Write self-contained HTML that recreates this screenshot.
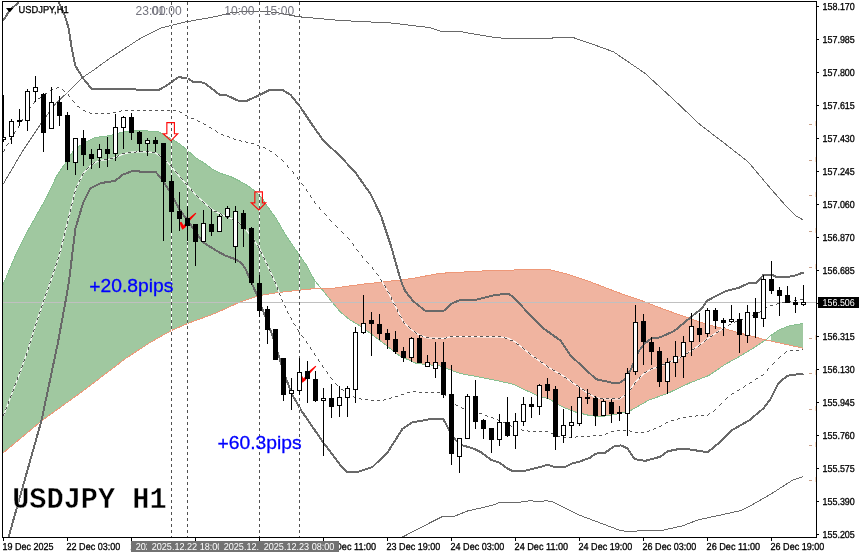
<!DOCTYPE html><html><head><meta charset="utf-8"><title>USDJPY H1</title><style>html,body{margin:0;padding:0;background:#fff}svg{display:block}</style></head><body><svg width="861" height="557" viewBox="0 0 861 557">
<rect width="861" height="557" fill="#fff"/>
<polygon fill="#A0C8A0" points="3.0,284.7 9.3,269.9 16.8,252.2 25.2,235.4 47.2,196.2 56.9,175.6 65.0,163.7 72.8,151.9 83.0,143.2 94.5,137.9 100.0,136.8 110.0,135.7 125.5,131.3 140.9,130.7 157.5,131.4 171.5,138.7 180.0,144.2 187.7,150.6 196.6,158.3 205.6,164.0 213.2,169.8 222.2,173.9 231.1,176.8 240.0,181.3 247.7,185.7 255.4,191.5 263.0,198.9 265.1,203.4 275.3,217.1 285.6,235.0 298.3,253.5 307.3,266.4 314.4,280.3 315.0,281.0 315.0,288.8 311.5,288.9 278.3,292.5 259.2,295.7 240.0,302.0 215.0,313.4 188.6,323.1 171.0,330.7 150.9,342.0 125.7,358.4 83.0,391.0 42.7,420.0 3.0,453.0"/>
<polygon fill="#F0B4A0" points="321.5,288.7 323.1,288.7 330.0,288.7 362.5,284.2 380.0,282.4 391.2,281.0 401.0,279.9 412.2,278.5 423.4,276.4 440.0,273.3 470.0,271.7 487.8,270.7 518.0,269.9 550.7,269.9 565.8,273.7 585.9,280.2 606.0,287.9 626.1,295.5 640.9,300.4 663.9,309.3 689.4,318.3 710.0,325.3 725.6,329.0 751.1,336.1 765.8,339.9 765.8,339.9 751.1,349.5 738.3,357.1 725.6,364.1 709.0,375.4 689.4,383.1 667.7,393.3 648.5,400.3 629.4,411.2 622.0,413.1 611.8,415.0 599.6,416.9 587.5,415.0 574.7,411.8 561.9,406.7 549.2,399.0 537.3,395.6 513.0,384.2 492.9,379.7 460.0,373.4 439.4,365.9 416.4,363.4 400.0,356.1 379.6,340.3 361.7,326.9 350.0,320.0 340.0,311.6 332.0,302.1 321.5,288.7"/>
<polygon fill="#A0C8A0" points="771.0,335.3 779.2,329.7 789.4,325.8 803.0,323.5 803.0,348.2 771.0,341.1"/>
<polyline fill="none" stroke="#88C090" stroke-width="1" shape-rendering="crispEdges" points="3.0,284.7 9.3,269.9 16.8,252.2 25.2,235.4 47.2,196.2 56.9,175.6 65.0,163.7 72.8,151.9 83.0,143.2 94.5,137.9 100.0,136.8 110.0,135.7 125.5,131.3 140.9,130.7 157.5,131.4 171.5,138.7 180.0,144.2 187.7,150.6 196.6,158.3 205.6,164.0 213.2,169.8 222.2,173.9 231.1,176.8 240.0,181.3 247.7,185.7 255.4,191.5 263.0,198.9 265.1,203.4 275.3,217.1 285.6,235.0 298.3,253.5 307.3,266.4 314.4,280.3 321.5,288.7 332.0,302.1 340.0,311.6 350.0,320.0 361.7,326.9 379.6,340.3 400.0,356.1 416.4,363.4 439.4,365.9 460.0,373.4 492.9,379.7 513.0,384.2 537.3,395.6 549.2,399.0 561.9,406.7 574.7,411.8 587.5,415.0 599.6,416.9 611.8,415.0 622.0,413.1 629.4,411.2 648.5,400.3 667.7,393.3 689.4,383.1 709.0,375.4 725.6,364.1 738.3,357.1 751.1,349.5 765.8,339.9 770.9,335.4 779.2,329.7 789.4,325.8 803.0,323.5"/>
<polyline fill="none" stroke="#EE9878" stroke-width="1" shape-rendering="crispEdges" points="3.0,453.0 42.7,420.0 83.0,391.0 125.7,358.4 150.9,342.0 171.0,330.7 188.6,323.1 215.0,313.4 240.0,302.0 259.2,295.7 278.3,292.5 311.5,288.9 323.1,288.7 330.0,288.7 362.5,284.2 380.0,282.4 391.2,281.0 401.0,279.9 412.2,278.5 423.4,276.4 440.0,273.3 470.0,271.7 487.8,270.7 518.0,269.9 550.7,269.9 565.8,273.7 585.9,280.2 606.0,287.9 626.1,295.5 640.9,300.4 663.9,309.3 689.4,318.3 710.0,325.3 725.6,329.0 751.1,336.1 765.8,339.9 803.0,348.2"/>
<rect x="3" y="302" width="813" height="1" fill="#C0C0C0" shape-rendering="crispEdges"/>
<polyline fill="none" stroke="#696969" stroke-width="1" shape-rendering="crispEdges" points="3.3,184.0 22.4,151.4 41.1,123.3 56.0,103.2 67.1,92.8 83.0,77.1 93.3,70.4 108.1,59.5 140.8,38.1 160.9,28.1 186.1,21.8 215.0,16.7 230.1,13.0 247.7,11.0 275.3,12.2 298.0,16.7 340.7,20.5 391.0,23.0 430.0,27.6 442.6,31.8 461.4,31.8 495.4,37.6 513.0,38.9 550.7,38.9 553.2,37.6 573.3,37.6 590.9,43.6 613.6,51.9 645.0,73.3 675.2,101.0 700.3,124.9 720.4,140.1 748.1,161.8 768.2,185.7 785.8,205.8 795.9,215.8 803.0,219.9"/>
<polyline fill="none" stroke="#696969" stroke-width="1" shape-rendering="crispEdges" points="401.0,537.8 430.0,522.8 442.5,516.5 455.0,516.0 467.5,511.0 492.4,505.3 498.7,502.8 514.9,502.8 529.9,500.8 539.9,501.5 546.1,500.8 552.3,501.5 562.3,506.5 579.8,515.3 599.8,522.8 619.8,530.3 627.3,531.5 645.0,530.6 660.1,530.8 682.6,525.8 697.7,520.0 740.3,510.7 752.9,504.4 770.4,494.4 793.0,479.9 803.0,476.6"/>
<polyline fill="none" stroke="#696969" stroke-width="2" stroke-linejoin="round" shape-rendering="crispEdges" points="3.1,20.6 10.0,9.9 19.0,2.1"/>
<polyline fill="none" stroke="#696969" stroke-width="2" stroke-linejoin="round" shape-rendering="crispEdges" points="58.6,2.1 64.4,14.4 68.5,27.7 71.7,48.2 75.4,65.8 83.0,78.3 91.8,88.9 115.7,88.9 158.4,90.2 166.0,85.9 178.5,77.1 187.3,78.3 193.6,82.1 203.7,82.6 215.0,90.9 220.0,95.2 226.3,95.2 238.9,101.0 246.4,101.0 260.3,94.7 269.1,90.2 282.9,90.2 290.4,94.7 300.5,107.3 313.1,126.1 323.1,140.2 340.7,156.7 355.8,173.1 370.9,194.5 381.0,215.8 391.0,246.0 398.3,271.7 401.5,282.2 404.8,290.4 412.9,300.9 425.1,310.7 443.8,310.7 452.0,303.4 460.1,300.1 475.3,299.9 492.9,295.5 507.9,293.5 513.0,296.7 530.6,315.6 543.2,328.2 560.8,340.8 570.8,355.8 585.9,369.7 596.0,379.2 611.8,382.6 619.8,382.7 625.2,378.9 630.7,369.7 635.8,358.2 638.5,351.4 645.0,343.3 651.1,338.7 660.0,337.4 674.1,331.1 689.4,318.3 702.2,308.1 707.0,300.7 725.6,291.2 738.3,288.0 748.6,283.2 756.2,283.2 763.2,275.2 772.8,275.2 776.7,277.1 786.9,277.1 794.5,275.8 800.9,273.3 803.5,273.3"/>
<polyline fill="none" stroke="#696969" stroke-width="2" stroke-linejoin="round" shape-rendering="crispEdges" points="8.4,537.8 41.5,420.4 57.8,343.3 66.6,295.5 69.1,280.4 75.4,228.4 83.0,203.3 90.5,188.2 100.6,183.1 114.7,181.0 123.1,174.5 132.4,171.1 139.0,171.1 140.5,172.1 155.8,172.1 161.4,178.7 168.8,189.9 179.2,208.8 188.2,221.6 193.9,229.3 202.2,241.7 216.2,250.6 225.0,255.4 235.2,259.2 241.6,263.1 246.1,270.1 249.3,277.8 252.1,284.2 256.3,293.1 265.6,317.4 271.9,334.0 277.9,353.2 285.6,377.4 291.9,394.0 300.9,410.0 323.4,442.7 341.3,466.4 347.3,471.9 357.3,472.1 372.3,467.1 387.3,452.8 402.3,429.1 412.3,422.4 430.0,419.2 443.4,419.2 449.2,430.1 455.6,440.3 463.2,445.6 472.2,448.0 481.1,452.2 491.3,459.9 499.0,462.4 507.9,468.8 513.0,471.1 523.3,471.1 540.0,467.1 547.4,464.8 554.8,467.1 564.8,467.1 572.3,463.3 579.8,461.6 589.8,457.8 596.0,453.6 604.8,452.8 614.8,446.1 621.0,445.4 627.3,448.4 634.7,459.1 645.0,460.9 660.1,456.8 667.6,451.3 677.6,449.3 690.2,449.5 707.7,452.3 720.3,441.7 731.6,430.4 749.1,420.4 763.2,408.6 770.7,398.6 778.3,383.5 787.1,375.8 797.1,374.4 803.5,374.3"/>
<polyline fill="none" stroke="#fff" stroke-width="1.2" points="3.5,151.5 11.5,137.5 19.5,125.4 27.5,111.9 35.5,100.7 43.5,95.0 51.5,89.7 59.5,87.6 67.5,93.3 75.5,104.8 83.5,110.7 91.5,113.3 99.5,113.9 107.5,113.9 115.5,112.6 123.5,110.9 131.5,110.9 139.5,110.8 147.5,110.8 155.5,110.8 163.5,110.7 171.5,110.6 179.5,111.7 187.5,116.1 195.5,119.9 203.5,123.5 211.5,128.2 219.5,133.2 227.5,136.4 235.5,139.6 243.5,141.9 251.5,143.8 259.5,145.8 267.5,149.2 275.5,154.1 283.5,161.5 291.5,170.8 299.5,180.2 307.5,191.7 315.5,203.2 323.5,212.5 331.5,221.7 339.5,229.7 347.5,237.7 355.5,247.6 363.5,258.0 371.5,266.3 379.5,277.5 387.5,291.0 395.5,306.6 403.5,322.1 411.5,329.9 419.5,335.1 427.5,337.9 435.5,338.2 443.5,338.4 451.5,336.7 459.5,336.7 467.5,336.7 475.5,336.7 483.5,336.8 491.5,336.9 499.5,336.9 507.5,338.0 515.5,342.0 523.5,348.7 531.5,355.2 539.5,361.0 547.5,366.7 555.5,371.5 563.5,376.1 571.5,382.0 579.5,387.5 587.5,392.9 595.5,397.5 603.5,399.0 611.5,399.0 619.5,399.0 627.5,393.3 635.5,382.0 643.5,374.0 651.5,368.9 659.5,366.7 667.5,362.9 675.5,359.7 683.5,355.5 691.5,350.4 699.5,345.1 707.5,338.8 715.5,333.3 723.5,328.3 731.5,324.0 739.5,320.7 747.5,317.4 755.5,314.1 763.5,309.6 771.5,305.9 779.5,303.9 787.5,301.8 795.5,300.3 803.5,299.5"/>
<path fill="#555555" shape-rendering="crispEdges" d="M3 151h1v1h-1zM4 150h1v1h-1zM4 149h1v1h-1zM6 145h1v1h-1zM7 144h1v1h-1zM8 143h1v1h-1zM10 139h1v1h-1zM10 138h1v1h-1zM11 137h1v1h-1zM14 133h1v1h-1zM14 132h1v1h-1zM15 131h1v1h-1zM18 127h1v1h-1zM18 126h1v1h-1zM19 125h1v1h-1zM21 121h1v1h-1zM22 120h1v1h-1zM22 119h1v1h-1zM25 115h1v1h-1zM25 114h1v1h-1zM26 113h1v1h-1zM28 109h1v1h-1zM29 108h1v1h-1zM30 107h1v1h-1zM33 103h1v1h-1zM34 102h1v1h-1zM34 101h1v1h-1zM38 98h1v1h-1zM39 98h1v1h-1zM40 97h1v1h-1zM44 94h1v1h-1zM45 93h1v1h-1zM46 93h1v1h-1zM50 90h1v1h-1zM51 89h1v1h-1zM52 89h1v1h-1zM56 88h1v1h-1zM57 87h1v1h-1zM58 87h1v1h-1zM62 89h1v1h-1zM63 90h1v1h-1zM64 91h1v1h-1zM68 94h1v1h-1zM68 95h1v1h-1zM69 96h1v1h-1zM72 100h1v1h-1zM73 101h1v1h-1zM74 102h1v1h-1zM77 106h1v1h-1zM78 106h1v1h-1zM79 107h1v1h-1zM83 110h1v1h-1zM84 110h1v1h-1zM85 111h1v1h-1zM89 112h1v1h-1zM90 113h1v1h-1zM91 113h1v1h-1zM95 113h1v1h-1zM96 113h1v1h-1zM97 113h1v1h-1zM101 113h1v1h-1zM102 113h1v1h-1zM103 113h1v1h-1zM107 113h1v1h-1zM108 113h1v1h-1zM109 113h1v1h-1zM113 112h1v1h-1zM114 112h1v1h-1zM115 112h1v1h-1zM119 111h1v1h-1zM120 111h1v1h-1zM121 110h1v1h-1zM125 110h1v1h-1zM126 110h1v1h-1zM127 110h1v1h-1zM131 110h1v1h-1zM132 110h1v1h-1zM133 110h1v1h-1zM137 110h1v1h-1zM138 110h1v1h-1zM139 110h1v1h-1zM143 110h1v1h-1zM144 110h1v1h-1zM145 110h1v1h-1zM149 110h1v1h-1zM150 110h1v1h-1zM151 110h1v1h-1zM155 110h1v1h-1zM156 110h1v1h-1zM157 110h1v1h-1zM161 110h1v1h-1zM162 110h1v1h-1zM163 110h1v1h-1zM167 110h1v1h-1zM168 110h1v1h-1zM169 110h1v1h-1zM173 110h1v1h-1zM174 110h1v1h-1zM175 110h1v1h-1zM179 111h1v1h-1zM180 112h1v1h-1zM181 112h1v1h-1zM185 115h1v1h-1zM186 115h1v1h-1zM187 116h1v1h-1zM191 118h1v1h-1zM192 118h1v1h-1zM193 118h1v1h-1zM197 120h1v1h-1zM198 121h1v1h-1zM199 121h1v1h-1zM203 123h1v1h-1zM204 124h1v1h-1zM205 124h1v1h-1zM209 127h1v1h-1zM210 127h1v1h-1zM211 128h1v1h-1zM215 130h1v1h-1zM216 131h1v1h-1zM217 132h1v1h-1zM221 134h1v1h-1zM222 134h1v1h-1zM223 135h1v1h-1zM227 136h1v1h-1zM228 136h1v1h-1zM229 137h1v1h-1zM233 138h1v1h-1zM234 139h1v1h-1zM235 139h1v1h-1zM239 140h1v1h-1zM240 140h1v1h-1zM241 141h1v1h-1zM245 141h1v1h-1zM246 142h1v1h-1zM247 142h1v1h-1zM251 143h1v1h-1zM252 143h1v1h-1zM253 143h1v1h-1zM257 145h1v1h-1zM258 145h1v1h-1zM259 145h1v1h-1zM263 147h1v1h-1zM264 147h1v1h-1zM265 148h1v1h-1zM269 150h1v1h-1zM270 151h1v1h-1zM271 151h1v1h-1zM275 154h1v1h-1zM276 155h1v1h-1zM277 156h1v1h-1zM281 159h1v1h-1zM282 160h1v1h-1zM283 161h1v1h-1zM287 165h1v1h-1zM287 166h1v1h-1zM288 167h1v1h-1zM292 171h1v1h-1zM293 172h1v1h-1zM293 173h1v1h-1zM297 177h1v1h-1zM297 178h1v1h-1zM298 179h1v1h-1zM301 183h1v1h-1zM302 184h1v1h-1zM303 185h1v1h-1zM306 189h1v1h-1zM306 190h1v1h-1zM307 191h1v1h-1zM310 195h1v1h-1zM310 196h1v1h-1zM311 197h1v1h-1zM314 201h1v1h-1zM314 202h1v1h-1zM315 203h1v1h-1zM319 207h1v1h-1zM319 208h1v1h-1zM320 209h1v1h-1zM324 213h1v1h-1zM325 214h1v1h-1zM326 215h1v1h-1zM329 219h1v1h-1zM330 220h1v1h-1zM331 221h1v1h-1zM335 225h1v1h-1zM336 226h1v1h-1zM337 227h1v1h-1zM341 231h1v1h-1zM342 232h1v1h-1zM343 233h1v1h-1zM347 237h1v1h-1zM348 238h1v1h-1zM349 239h1v1h-1zM352 243h1v1h-1zM353 244h1v1h-1zM353 245h1v1h-1zM356 249h1v1h-1zM357 250h1v1h-1zM358 251h1v1h-1zM361 255h1v1h-1zM362 256h1v1h-1zM362 257h1v1h-1zM366 261h1v1h-1zM367 262h1v1h-1zM368 263h1v1h-1zM372 267h1v1h-1zM372 268h1v1h-1zM373 269h1v1h-1zM376 273h1v1h-1zM377 274h1v1h-1zM378 275h1v1h-1zM380 279h1v1h-1zM381 280h1v1h-1zM381 281h1v1h-1zM384 285h1v1h-1zM385 286h1v1h-1zM385 287h1v1h-1zM387 291h1v1h-1zM388 292h1v1h-1zM389 293h1v1h-1zM391 297h1v1h-1zM391 298h1v1h-1zM391 299h1v1h-1zM393 303h1v1h-1zM394 304h1v1h-1zM395 305h1v1h-1zM397 309h1v1h-1zM397 310h1v1h-1zM397 311h1v1h-1zM399 315h1v1h-1zM400 316h1v1h-1zM401 317h1v1h-1zM403 321h1v1h-1zM403 322h1v1h-1zM404 323h1v1h-1zM408 326h1v1h-1zM409 327h1v1h-1zM410 328h1v1h-1zM414 331h1v1h-1zM415 332h1v1h-1zM416 333h1v1h-1zM420 335h1v1h-1zM421 335h1v1h-1zM422 336h1v1h-1zM426 337h1v1h-1zM427 337h1v1h-1zM428 337h1v1h-1zM432 338h1v1h-1zM433 338h1v1h-1zM434 338h1v1h-1zM438 338h1v1h-1zM439 338h1v1h-1zM440 338h1v1h-1zM444 338h1v1h-1zM445 338h1v1h-1zM446 337h1v1h-1zM450 336h1v1h-1zM451 336h1v1h-1zM452 336h1v1h-1zM456 336h1v1h-1zM457 336h1v1h-1zM458 336h1v1h-1zM462 336h1v1h-1zM463 336h1v1h-1zM464 336h1v1h-1zM468 336h1v1h-1zM469 336h1v1h-1zM470 336h1v1h-1zM474 336h1v1h-1zM475 336h1v1h-1zM476 336h1v1h-1zM480 336h1v1h-1zM481 336h1v1h-1zM482 336h1v1h-1zM486 336h1v1h-1zM487 336h1v1h-1zM488 336h1v1h-1zM492 336h1v1h-1zM493 336h1v1h-1zM494 336h1v1h-1zM498 336h1v1h-1zM499 336h1v1h-1zM500 336h1v1h-1zM504 337h1v1h-1zM505 338h1v1h-1zM506 338h1v1h-1zM510 340h1v1h-1zM511 340h1v1h-1zM512 340h1v1h-1zM516 343h1v1h-1zM517 344h1v1h-1zM518 344h1v1h-1zM522 347h1v1h-1zM523 348h1v1h-1zM524 349h1v1h-1zM528 352h1v1h-1zM529 353h1v1h-1zM530 354h1v1h-1zM534 357h1v1h-1zM535 357h1v1h-1zM536 358h1v1h-1zM540 361h1v1h-1zM541 362h1v1h-1zM542 362h1v1h-1zM546 365h1v1h-1zM547 366h1v1h-1zM548 367h1v1h-1zM552 369h1v1h-1zM553 370h1v1h-1zM554 370h1v1h-1zM558 373h1v1h-1zM559 373h1v1h-1zM560 374h1v1h-1zM564 377h1v1h-1zM565 377h1v1h-1zM566 378h1v1h-1zM570 380h1v1h-1zM571 381h1v1h-1zM572 382h1v1h-1zM576 385h1v1h-1zM577 385h1v1h-1zM578 386h1v1h-1zM582 389h1v1h-1zM583 389h1v1h-1zM584 390h1v1h-1zM588 393h1v1h-1zM589 393h1v1h-1zM590 394h1v1h-1zM594 396h1v1h-1zM595 397h1v1h-1zM596 397h1v1h-1zM600 398h1v1h-1zM601 398h1v1h-1zM602 398h1v1h-1zM606 398h1v1h-1zM607 398h1v1h-1zM608 398h1v1h-1zM612 398h1v1h-1zM613 398h1v1h-1zM614 398h1v1h-1zM618 398h1v1h-1zM619 398h1v1h-1zM620 397h1v1h-1zM624 395h1v1h-1zM625 394h1v1h-1zM626 394h1v1h-1zM629 390h1v1h-1zM630 389h1v1h-1zM631 388h1v1h-1zM634 384h1v1h-1zM634 383h1v1h-1zM635 382h1v1h-1zM639 378h1v1h-1zM639 377h1v1h-1zM640 376h1v1h-1zM644 372h1v1h-1zM645 372h1v1h-1zM646 371h1v1h-1zM650 369h1v1h-1zM651 368h1v1h-1zM652 368h1v1h-1zM656 367h1v1h-1zM657 366h1v1h-1zM658 366h1v1h-1zM662 364h1v1h-1zM663 364h1v1h-1zM664 364h1v1h-1zM668 362h1v1h-1zM669 361h1v1h-1zM670 361h1v1h-1zM674 359h1v1h-1zM675 359h1v1h-1zM676 359h1v1h-1zM680 357h1v1h-1zM681 356h1v1h-1zM682 355h1v1h-1zM686 353h1v1h-1zM687 353h1v1h-1zM688 352h1v1h-1zM692 349h1v1h-1zM693 349h1v1h-1zM694 348h1v1h-1zM698 346h1v1h-1zM699 345h1v1h-1zM700 344h1v1h-1zM704 341h1v1h-1zM705 340h1v1h-1zM706 339h1v1h-1zM710 336h1v1h-1zM711 336h1v1h-1zM712 335h1v1h-1zM716 332h1v1h-1zM717 332h1v1h-1zM718 331h1v1h-1zM722 329h1v1h-1zM723 328h1v1h-1zM724 327h1v1h-1zM728 325h1v1h-1zM729 324h1v1h-1zM730 324h1v1h-1zM734 322h1v1h-1zM735 321h1v1h-1zM736 321h1v1h-1zM740 320h1v1h-1zM741 319h1v1h-1zM742 319h1v1h-1zM746 317h1v1h-1zM747 317h1v1h-1zM748 317h1v1h-1zM752 315h1v1h-1zM753 315h1v1h-1zM754 314h1v1h-1zM758 312h1v1h-1zM759 312h1v1h-1zM760 311h1v1h-1zM764 309h1v1h-1zM765 308h1v1h-1zM766 307h1v1h-1zM770 305h1v1h-1zM771 305h1v1h-1zM772 305h1v1h-1zM776 304h1v1h-1zM777 303h1v1h-1zM778 303h1v1h-1zM782 302h1v1h-1zM783 302h1v1h-1zM784 302h1v1h-1zM788 301h1v1h-1zM789 301h1v1h-1zM790 301h1v1h-1zM794 300h1v1h-1zM795 300h1v1h-1zM796 300h1v1h-1zM800 299h1v1h-1zM801 299h1v1h-1zM802 299h1v1h-1z"/>
<polyline fill="none" stroke="#fff" stroke-width="1.2" points="3.5,415.7 11.5,394.6 19.5,373.9 27.5,351.1 35.5,325.2 43.5,301.5 51.5,278.8 59.5,254.7 67.5,222.1 75.5,189.5 83.5,173.0 91.5,164.8 99.5,160.3 107.5,159.7 115.5,157.3 123.5,153.9 131.5,152.1 139.5,151.8 147.5,151.8 155.5,153.0 163.5,158.2 171.5,166.6 179.5,176.7 187.5,185.5 195.5,194.7 203.5,202.0 211.5,209.2 219.5,213.6 227.5,217.2 235.5,220.2 243.5,226.6 251.5,236.5 259.5,248.4 267.5,265.4 275.5,283.0 283.5,303.4 291.5,319.4 299.5,332.4 307.5,343.9 315.5,355.7 323.5,367.6 331.5,378.7 339.5,387.1 347.5,393.2 355.5,397.3 363.5,399.5 371.5,400.3 379.5,400.3 387.5,399.5 395.5,396.8 403.5,394.1 411.5,392.0 419.5,392.0 427.5,392.4 435.5,392.8 443.5,393.2 451.5,401.1 459.5,407.2 467.5,409.7 475.5,411.7 483.5,415.0 491.5,417.9 499.5,420.7 507.5,424.4 515.5,427.7 523.5,430.4 531.5,431.9 539.5,431.8 547.5,431.6 555.5,435.5 563.5,437.2 571.5,437.9 579.5,436.5 587.5,436.2 595.5,435.8 603.5,435.4 611.5,431.7 619.5,430.0 627.5,430.1 635.5,432.6 643.5,432.7 651.5,430.0 659.5,426.2 667.5,422.6 675.5,419.2 683.5,417.3 691.5,416.4 699.5,415.7 707.5,415.0 715.5,409.1 723.5,401.7 731.5,394.8 739.5,389.6 747.5,384.8 755.5,379.6 763.5,374.4 771.5,365.8 779.5,357.2 787.5,350.7 795.5,350.1 803.5,349.5"/>
<path fill="#555555" shape-rendering="crispEdges" d="M3 415h1v1h-1zM3 414h1v1h-1zM4 413h1v1h-1zM5 409h1v1h-1zM6 408h1v1h-1zM6 407h1v1h-1zM8 403h1v1h-1zM8 402h1v1h-1zM8 401h1v1h-1zM10 397h1v1h-1zM10 396h1v1h-1zM11 395h1v1h-1zM12 391h1v1h-1zM13 390h1v1h-1zM13 389h1v1h-1zM14 385h1v1h-1zM15 384h1v1h-1zM15 383h1v1h-1zM17 379h1v1h-1zM17 378h1v1h-1zM17 377h1v1h-1zM19 373h1v1h-1zM19 372h1v1h-1zM20 371h1v1h-1zM21 367h1v1h-1zM22 366h1v1h-1zM22 365h1v1h-1zM23 361h1v1h-1zM24 360h1v1h-1zM24 359h1v1h-1zM26 355h1v1h-1zM26 354h1v1h-1zM26 353h1v1h-1zM28 349h1v1h-1zM28 348h1v1h-1zM28 347h1v1h-1zM29 343h1v1h-1zM30 342h1v1h-1zM30 341h1v1h-1zM31 337h1v1h-1zM32 336h1v1h-1zM32 335h1v1h-1zM33 331h1v1h-1zM33 330h1v1h-1zM34 329h1v1h-1zM35 325h1v1h-1zM35 324h1v1h-1zM36 323h1v1h-1zM37 319h1v1h-1zM37 318h1v1h-1zM38 317h1v1h-1zM39 313h1v1h-1zM39 312h1v1h-1zM40 311h1v1h-1zM41 307h1v1h-1zM41 306h1v1h-1zM42 305h1v1h-1zM43 301h1v1h-1zM43 300h1v1h-1zM44 299h1v1h-1zM45 295h1v1h-1zM45 294h1v1h-1zM46 293h1v1h-1zM47 289h1v1h-1zM48 288h1v1h-1zM48 287h1v1h-1zM49 283h1v1h-1zM50 282h1v1h-1zM50 281h1v1h-1zM51 277h1v1h-1zM52 276h1v1h-1zM52 275h1v1h-1zM53 271h1v1h-1zM54 270h1v1h-1zM54 269h1v1h-1zM55 265h1v1h-1zM56 264h1v1h-1zM56 263h1v1h-1zM57 259h1v1h-1zM58 258h1v1h-1zM58 257h1v1h-1zM59 253h1v1h-1zM59 252h1v1h-1zM60 251h1v1h-1zM61 247h1v1h-1zM61 246h1v1h-1zM61 245h1v1h-1zM62 241h1v1h-1zM63 240h1v1h-1zM63 239h1v1h-1zM64 235h1v1h-1zM64 234h1v1h-1zM64 233h1v1h-1zM65 229h1v1h-1zM65 228h1v1h-1zM66 227h1v1h-1zM67 223h1v1h-1zM67 222h1v1h-1zM67 221h1v1h-1zM68 217h1v1h-1zM68 216h1v1h-1zM69 215h1v1h-1zM70 211h1v1h-1zM70 210h1v1h-1zM70 209h1v1h-1zM71 205h1v1h-1zM71 204h1v1h-1zM72 203h1v1h-1zM73 199h1v1h-1zM73 198h1v1h-1zM73 197h1v1h-1zM74 193h1v1h-1zM74 192h1v1h-1zM75 191h1v1h-1zM76 187h1v1h-1zM76 186h1v1h-1zM77 185h1v1h-1zM79 181h1v1h-1zM79 180h1v1h-1zM80 179h1v1h-1zM82 175h1v1h-1zM82 174h1v1h-1zM83 173h1v1h-1zM86 169h1v1h-1zM87 168h1v1h-1zM88 167h1v1h-1zM92 164h1v1h-1zM93 163h1v1h-1zM94 162h1v1h-1zM98 160h1v1h-1zM99 160h1v1h-1zM100 160h1v1h-1zM104 159h1v1h-1zM105 159h1v1h-1zM106 159h1v1h-1zM110 158h1v1h-1zM111 158h1v1h-1zM112 158h1v1h-1zM116 157h1v1h-1zM117 156h1v1h-1zM118 155h1v1h-1zM122 153h1v1h-1zM123 153h1v1h-1zM124 153h1v1h-1zM128 152h1v1h-1zM129 152h1v1h-1zM130 152h1v1h-1zM134 152h1v1h-1zM135 152h1v1h-1zM136 151h1v1h-1zM140 151h1v1h-1zM141 151h1v1h-1zM142 151h1v1h-1zM146 151h1v1h-1zM147 151h1v1h-1zM148 151h1v1h-1zM152 152h1v1h-1zM153 152h1v1h-1zM154 152h1v1h-1zM158 154h1v1h-1zM159 155h1v1h-1zM160 156h1v1h-1zM164 159h1v1h-1zM165 160h1v1h-1zM166 161h1v1h-1zM170 165h1v1h-1zM171 166h1v1h-1zM172 167h1v1h-1zM175 171h1v1h-1zM176 172h1v1h-1zM177 173h1v1h-1zM180 177h1v1h-1zM181 178h1v1h-1zM182 179h1v1h-1zM185 183h1v1h-1zM186 184h1v1h-1zM187 185h1v1h-1zM191 189h1v1h-1zM191 190h1v1h-1zM192 191h1v1h-1zM196 195h1v1h-1zM197 196h1v1h-1zM198 197h1v1h-1zM202 201h1v1h-1zM203 202h1v1h-1zM204 203h1v1h-1zM208 206h1v1h-1zM209 207h1v1h-1zM210 208h1v1h-1zM214 211h1v1h-1zM215 211h1v1h-1zM216 211h1v1h-1zM220 213h1v1h-1zM221 214h1v1h-1zM222 215h1v1h-1zM226 217h1v1h-1zM227 217h1v1h-1zM228 217h1v1h-1zM232 219h1v1h-1zM233 219h1v1h-1zM234 220h1v1h-1zM238 222h1v1h-1zM239 223h1v1h-1zM240 224h1v1h-1zM244 227h1v1h-1zM245 228h1v1h-1zM245 229h1v1h-1zM249 233h1v1h-1zM249 234h1v1h-1zM250 235h1v1h-1zM253 239h1v1h-1zM254 240h1v1h-1zM254 241h1v1h-1zM257 245h1v1h-1zM258 246h1v1h-1zM258 247h1v1h-1zM260 251h1v1h-1zM261 252h1v1h-1zM261 253h1v1h-1zM263 257h1v1h-1zM264 258h1v1h-1zM264 259h1v1h-1zM266 263h1v1h-1zM267 264h1v1h-1zM267 265h1v1h-1zM269 269h1v1h-1zM269 270h1v1h-1zM270 271h1v1h-1zM271 275h1v1h-1zM272 276h1v1h-1zM272 277h1v1h-1zM274 281h1v1h-1zM275 282h1v1h-1zM275 283h1v1h-1zM277 287h1v1h-1zM277 288h1v1h-1zM277 289h1v1h-1zM279 293h1v1h-1zM279 294h1v1h-1zM280 295h1v1h-1zM281 299h1v1h-1zM282 300h1v1h-1zM282 301h1v1h-1zM284 305h1v1h-1zM285 306h1v1h-1zM285 307h1v1h-1zM287 311h1v1h-1zM287 312h1v1h-1zM288 313h1v1h-1zM290 317h1v1h-1zM291 318h1v1h-1zM291 319h1v1h-1zM293 323h1v1h-1zM294 324h1v1h-1zM295 325h1v1h-1zM297 329h1v1h-1zM298 330h1v1h-1zM298 331h1v1h-1zM301 335h1v1h-1zM302 336h1v1h-1zM303 337h1v1h-1zM306 341h1v1h-1zM306 342h1v1h-1zM307 343h1v1h-1zM310 347h1v1h-1zM310 348h1v1h-1zM311 349h1v1h-1zM314 353h1v1h-1zM314 354h1v1h-1zM315 355h1v1h-1zM318 359h1v1h-1zM318 360h1v1h-1zM319 361h1v1h-1zM322 365h1v1h-1zM322 366h1v1h-1zM323 367h1v1h-1zM326 371h1v1h-1zM327 372h1v1h-1zM327 373h1v1h-1zM330 377h1v1h-1zM331 378h1v1h-1zM332 379h1v1h-1zM335 383h1v1h-1zM336 384h1v1h-1zM337 385h1v1h-1zM341 389h1v1h-1zM342 389h1v1h-1zM343 390h1v1h-1zM347 393h1v1h-1zM348 393h1v1h-1zM349 394h1v1h-1zM353 396h1v1h-1zM354 397h1v1h-1zM355 397h1v1h-1zM359 398h1v1h-1zM360 398h1v1h-1zM361 399h1v1h-1zM365 399h1v1h-1zM366 399h1v1h-1zM367 399h1v1h-1zM371 400h1v1h-1zM372 400h1v1h-1zM373 400h1v1h-1zM377 400h1v1h-1zM378 400h1v1h-1zM379 400h1v1h-1zM383 400h1v1h-1zM384 399h1v1h-1zM385 399h1v1h-1zM389 398h1v1h-1zM390 398h1v1h-1zM391 397h1v1h-1zM395 396h1v1h-1zM396 396h1v1h-1zM397 396h1v1h-1zM401 394h1v1h-1zM402 394h1v1h-1zM403 394h1v1h-1zM407 392h1v1h-1zM408 392h1v1h-1zM409 392h1v1h-1zM413 391h1v1h-1zM414 391h1v1h-1zM415 391h1v1h-1zM419 392h1v1h-1zM420 392h1v1h-1zM421 392h1v1h-1zM425 392h1v1h-1zM426 392h1v1h-1zM427 392h1v1h-1zM431 392h1v1h-1zM432 392h1v1h-1zM433 392h1v1h-1zM437 392h1v1h-1zM438 392h1v1h-1zM439 392h1v1h-1zM443 393h1v1h-1zM444 394h1v1h-1zM445 395h1v1h-1zM449 399h1v1h-1zM450 400h1v1h-1zM451 401h1v1h-1zM455 404h1v1h-1zM456 405h1v1h-1zM457 405h1v1h-1zM461 407h1v1h-1zM462 408h1v1h-1zM463 408h1v1h-1zM467 409h1v1h-1zM468 409h1v1h-1zM469 409h1v1h-1zM473 411h1v1h-1zM474 411h1v1h-1zM475 411h1v1h-1zM479 413h1v1h-1zM480 413h1v1h-1zM481 413h1v1h-1zM485 415h1v1h-1zM486 415h1v1h-1zM487 416h1v1h-1zM491 417h1v1h-1zM492 417h1v1h-1zM493 418h1v1h-1zM497 419h1v1h-1zM498 420h1v1h-1zM499 420h1v1h-1zM503 422h1v1h-1zM504 422h1v1h-1zM505 423h1v1h-1zM509 425h1v1h-1zM510 425h1v1h-1zM511 426h1v1h-1zM515 427h1v1h-1zM516 427h1v1h-1zM517 428h1v1h-1zM521 429h1v1h-1zM522 430h1v1h-1zM523 430h1v1h-1zM527 430h1v1h-1zM528 431h1v1h-1zM529 431h1v1h-1zM533 431h1v1h-1zM534 431h1v1h-1zM535 431h1v1h-1zM539 431h1v1h-1zM540 431h1v1h-1zM541 431h1v1h-1zM545 431h1v1h-1zM546 431h1v1h-1zM547 431h1v1h-1zM551 433h1v1h-1zM552 433h1v1h-1zM553 434h1v1h-1zM557 435h1v1h-1zM558 436h1v1h-1zM559 436h1v1h-1zM563 437h1v1h-1zM564 437h1v1h-1zM565 437h1v1h-1zM569 437h1v1h-1zM570 437h1v1h-1zM571 437h1v1h-1zM575 437h1v1h-1zM576 436h1v1h-1zM577 436h1v1h-1zM581 436h1v1h-1zM582 436h1v1h-1zM583 436h1v1h-1zM587 436h1v1h-1zM588 436h1v1h-1zM589 436h1v1h-1zM593 435h1v1h-1zM594 435h1v1h-1zM595 435h1v1h-1zM599 435h1v1h-1zM600 435h1v1h-1zM601 435h1v1h-1zM605 434h1v1h-1zM606 433h1v1h-1zM607 433h1v1h-1zM611 431h1v1h-1zM612 431h1v1h-1zM613 431h1v1h-1zM617 430h1v1h-1zM618 430h1v1h-1zM619 430h1v1h-1zM623 430h1v1h-1zM624 430h1v1h-1zM625 430h1v1h-1zM629 430h1v1h-1zM630 431h1v1h-1zM631 431h1v1h-1zM635 432h1v1h-1zM636 432h1v1h-1zM637 432h1v1h-1zM641 432h1v1h-1zM642 432h1v1h-1zM643 432h1v1h-1zM647 431h1v1h-1zM648 431h1v1h-1zM649 430h1v1h-1zM653 429h1v1h-1zM654 428h1v1h-1zM655 428h1v1h-1zM659 426h1v1h-1zM660 426h1v1h-1zM661 425h1v1h-1zM665 423h1v1h-1zM666 422h1v1h-1zM667 422h1v1h-1zM671 420h1v1h-1zM672 420h1v1h-1zM673 420h1v1h-1zM677 419h1v1h-1zM678 418h1v1h-1zM679 418h1v1h-1zM683 417h1v1h-1zM684 417h1v1h-1zM685 417h1v1h-1zM689 416h1v1h-1zM690 416h1v1h-1zM691 416h1v1h-1zM695 416h1v1h-1zM696 415h1v1h-1zM697 415h1v1h-1zM701 415h1v1h-1zM702 415h1v1h-1zM703 415h1v1h-1zM707 415h1v1h-1zM708 414h1v1h-1zM709 413h1v1h-1zM713 411h1v1h-1zM714 410h1v1h-1zM715 409h1v1h-1zM719 405h1v1h-1zM720 404h1v1h-1zM721 403h1v1h-1zM725 399h1v1h-1zM726 398h1v1h-1zM727 397h1v1h-1zM731 394h1v1h-1zM732 393h1v1h-1zM733 393h1v1h-1zM737 390h1v1h-1zM738 390h1v1h-1zM739 389h1v1h-1zM743 387h1v1h-1zM744 386h1v1h-1zM745 385h1v1h-1zM749 383h1v1h-1zM750 382h1v1h-1zM751 382h1v1h-1zM755 379h1v1h-1zM756 378h1v1h-1zM757 378h1v1h-1zM761 375h1v1h-1zM762 375h1v1h-1zM763 374h1v1h-1zM767 370h1v1h-1zM767 369h1v1h-1zM768 368h1v1h-1zM772 364h1v1h-1zM773 363h1v1h-1zM774 362h1v1h-1zM778 358h1v1h-1zM779 357h1v1h-1zM780 356h1v1h-1zM784 353h1v1h-1zM785 352h1v1h-1zM786 351h1v1h-1zM790 350h1v1h-1zM791 350h1v1h-1zM792 350h1v1h-1zM796 350h1v1h-1zM797 350h1v1h-1zM798 350h1v1h-1zM802 349h1v1h-1z"/>
<rect x="171" y="2" width="1" height="535" fill="#fff" shape-rendering="crispEdges"/>
<line x1="171.5" y1="2" x2="171.5" y2="537" stroke="#505050" stroke-width="1" stroke-dasharray="3 3" shape-rendering="crispEdges"/>
<rect x="187" y="2" width="1" height="535" fill="#fff" shape-rendering="crispEdges"/>
<line x1="187.5" y1="2" x2="187.5" y2="537" stroke="#505050" stroke-width="1" stroke-dasharray="3 3" shape-rendering="crispEdges"/>
<rect x="259" y="2" width="1" height="535" fill="#fff" shape-rendering="crispEdges"/>
<line x1="259.5" y1="2" x2="259.5" y2="537" stroke="#505050" stroke-width="1" stroke-dasharray="3 3" shape-rendering="crispEdges"/>
<rect x="299" y="2" width="1" height="535" fill="#fff" shape-rendering="crispEdges"/>
<line x1="299.5" y1="2" x2="299.5" y2="537" stroke="#505050" stroke-width="1" stroke-dasharray="3 3" shape-rendering="crispEdges"/>
<path d="M179.6 222.6 L181.4 221.8 L183.6 225.6 L189.7 217.5 L195.5 212.7 L196.3 213.4 L190.4 220.0 L185.6 227.3 L182.4 229.8 L180.8 226.5Z" fill="#FF0000"/>
<path d="M299.6 375.6 L301.4 374.8 L303.6 378.6 L309.7 370.5 L315.5 365.7 L316.3 366.4 L310.4 373.0 L305.6 380.3 L302.4 382.8 L300.8 379.5Z" fill="#FF0000"/>
<g fill="#000" shape-rendering="crispEdges"><rect x="3" y="95" width="1" height="47"/><rect x="3" y="137" width="3" height="3"/><rect x="3" y="138" width="2" height="1" fill="#fff"/><rect x="11" y="119" width="1" height="25"/><rect x="9" y="121" width="5" height="16"/><rect x="10" y="122" width="3" height="14" fill="#fff"/><rect x="19" y="109" width="1" height="17"/><rect x="17" y="120" width="5" height="2"/><rect x="27" y="89" width="1" height="42"/><rect x="25" y="91" width="5" height="30"/><rect x="26" y="92" width="3" height="28" fill="#fff"/><rect x="35" y="76" width="1" height="26"/><rect x="33" y="87" width="5" height="5"/><rect x="34" y="88" width="3" height="3" fill="#fff"/><rect x="43" y="93" width="1" height="59"/><rect x="41" y="94" width="5" height="39"/><rect x="51" y="87" width="1" height="42"/><rect x="49" y="102" width="5" height="27"/><rect x="50" y="103" width="3" height="25" fill="#fff"/><rect x="59" y="96" width="1" height="30"/><rect x="57" y="102" width="5" height="14"/><rect x="67" y="112" width="1" height="58"/><rect x="65" y="115" width="5" height="47"/><rect x="75" y="138" width="1" height="37"/><rect x="73" y="138" width="5" height="25"/><rect x="74" y="139" width="3" height="23" fill="#fff"/><rect x="83" y="130" width="1" height="36"/><rect x="81" y="138" width="5" height="17"/><rect x="91" y="149" width="1" height="20"/><rect x="89" y="154" width="5" height="5"/><rect x="99" y="144" width="1" height="24"/><rect x="97" y="149" width="5" height="9"/><rect x="98" y="150" width="3" height="7" fill="#fff"/><rect x="107" y="137" width="1" height="30"/><rect x="105" y="149" width="5" height="5"/><rect x="115" y="114" width="1" height="47"/><rect x="113" y="127" width="5" height="27"/><rect x="114" y="128" width="3" height="25" fill="#fff"/><rect x="123" y="116" width="1" height="33"/><rect x="121" y="117" width="5" height="11"/><rect x="122" y="118" width="3" height="9" fill="#fff"/><rect x="131" y="113" width="1" height="27"/><rect x="129" y="117" width="5" height="16"/><rect x="139" y="131" width="1" height="21"/><rect x="137" y="132" width="5" height="12"/><rect x="147" y="138" width="1" height="18"/><rect x="145" y="140" width="5" height="4"/><rect x="146" y="141" width="3" height="2" fill="#fff"/><rect x="155" y="137" width="1" height="15"/><rect x="153" y="140" width="5" height="4"/><rect x="163" y="143" width="1" height="98"/><rect x="161" y="143" width="5" height="39"/><rect x="171" y="175" width="1" height="58"/><rect x="169" y="181" width="5" height="31"/><rect x="179" y="192" width="1" height="39"/><rect x="177" y="211" width="5" height="8"/><rect x="187" y="206" width="1" height="35"/><rect x="185" y="218" width="5" height="8"/><rect x="195" y="224" width="1" height="42"/><rect x="193" y="224" width="5" height="18"/><rect x="203" y="210" width="1" height="32"/><rect x="201" y="223" width="5" height="19"/><rect x="202" y="224" width="3" height="17" fill="#fff"/><rect x="211" y="209" width="1" height="27"/><rect x="209" y="224" width="5" height="8"/><rect x="219" y="214" width="1" height="18"/><rect x="217" y="216" width="5" height="16"/><rect x="218" y="217" width="3" height="14" fill="#fff"/><rect x="227" y="206" width="1" height="13"/><rect x="225" y="208" width="5" height="9"/><rect x="226" y="209" width="3" height="7" fill="#fff"/><rect x="235" y="206" width="1" height="57"/><rect x="233" y="211" width="5" height="36"/><rect x="234" y="212" width="3" height="34" fill="#fff"/><rect x="243" y="210" width="1" height="37"/><rect x="241" y="213" width="5" height="16"/><rect x="251" y="227" width="1" height="58"/><rect x="249" y="228" width="5" height="55"/><rect x="259" y="275" width="1" height="42"/><rect x="257" y="283" width="5" height="28"/><rect x="267" y="306" width="1" height="38"/><rect x="265" y="309" width="5" height="21"/><rect x="275" y="329" width="1" height="31"/><rect x="273" y="329" width="5" height="31"/><rect x="283" y="358" width="1" height="43"/><rect x="281" y="358" width="5" height="37"/><rect x="291" y="378" width="1" height="32"/><rect x="289" y="390" width="5" height="4"/><rect x="290" y="391" width="3" height="2" fill="#fff"/><rect x="299" y="358" width="1" height="37"/><rect x="297" y="372" width="5" height="19"/><rect x="298" y="373" width="3" height="17" fill="#fff"/><rect x="307" y="361" width="1" height="42"/><rect x="305" y="371" width="5" height="8"/><rect x="315" y="371" width="1" height="31"/><rect x="313" y="379" width="5" height="22"/><rect x="323" y="388" width="1" height="68"/><rect x="321" y="398" width="5" height="3"/><rect x="322" y="399" width="3" height="1" fill="#fff"/><rect x="331" y="384" width="1" height="34"/><rect x="329" y="398" width="5" height="9"/><rect x="339" y="386" width="1" height="31"/><rect x="337" y="397" width="5" height="9"/><rect x="338" y="398" width="3" height="7" fill="#fff"/><rect x="347" y="386" width="1" height="31"/><rect x="345" y="388" width="5" height="10"/><rect x="346" y="389" width="3" height="8" fill="#fff"/><rect x="355" y="327" width="1" height="76"/><rect x="353" y="332" width="5" height="58"/><rect x="354" y="333" width="3" height="56" fill="#fff"/><rect x="363" y="295" width="1" height="39"/><rect x="361" y="323" width="5" height="10"/><rect x="362" y="324" width="3" height="8" fill="#fff"/><rect x="371" y="312" width="1" height="44"/><rect x="369" y="320" width="5" height="4"/><rect x="379" y="314" width="1" height="26"/><rect x="377" y="324" width="5" height="10"/><rect x="387" y="329" width="1" height="20"/><rect x="385" y="333" width="5" height="7"/><rect x="395" y="331" width="1" height="23"/><rect x="393" y="339" width="5" height="13"/><rect x="403" y="347" width="1" height="15"/><rect x="401" y="351" width="5" height="7"/><rect x="411" y="337" width="1" height="25"/><rect x="409" y="338" width="5" height="20"/><rect x="410" y="339" width="3" height="18" fill="#fff"/><rect x="419" y="335" width="1" height="28"/><rect x="417" y="338" width="5" height="25"/><rect x="427" y="355" width="1" height="12"/><rect x="425" y="362" width="5" height="5"/><rect x="426" y="363" width="3" height="3" fill="#fff"/><rect x="435" y="342" width="1" height="36"/><rect x="433" y="362" width="5" height="7"/><rect x="434" y="363" width="3" height="5" fill="#fff"/><rect x="443" y="342" width="1" height="56"/><rect x="441" y="362" width="5" height="33"/><rect x="451" y="365" width="1" height="100"/><rect x="449" y="394" width="5" height="60"/><rect x="459" y="438" width="1" height="35"/><rect x="457" y="438" width="5" height="19"/><rect x="458" y="439" width="3" height="17" fill="#fff"/><rect x="467" y="394" width="1" height="45"/><rect x="465" y="396" width="5" height="43"/><rect x="466" y="397" width="3" height="41" fill="#fff"/><rect x="475" y="380" width="1" height="49"/><rect x="473" y="396" width="5" height="26"/><rect x="483" y="419" width="1" height="20"/><rect x="481" y="420" width="5" height="9"/><rect x="491" y="428" width="1" height="25"/><rect x="489" y="428" width="5" height="12"/><rect x="499" y="414" width="1" height="32"/><rect x="497" y="422" width="5" height="18"/><rect x="498" y="423" width="3" height="16" fill="#fff"/><rect x="507" y="397" width="1" height="40"/><rect x="505" y="422" width="5" height="14"/><rect x="515" y="413" width="1" height="36"/><rect x="513" y="421" width="5" height="15"/><rect x="514" y="422" width="3" height="13" fill="#fff"/><rect x="523" y="397" width="1" height="29"/><rect x="521" y="404" width="5" height="18"/><rect x="522" y="405" width="3" height="16" fill="#fff"/><rect x="531" y="397" width="1" height="21"/><rect x="529" y="404" width="5" height="3"/><rect x="539" y="384" width="1" height="31"/><rect x="537" y="385" width="5" height="22"/><rect x="538" y="386" width="3" height="20" fill="#fff"/><rect x="547" y="378" width="1" height="21"/><rect x="545" y="384" width="5" height="7"/><rect x="555" y="386" width="1" height="64"/><rect x="553" y="389" width="5" height="48"/><rect x="563" y="409" width="1" height="34"/><rect x="561" y="425" width="5" height="11"/><rect x="562" y="426" width="3" height="9" fill="#fff"/><rect x="571" y="406" width="1" height="32"/><rect x="569" y="422" width="5" height="4"/><rect x="570" y="423" width="3" height="2" fill="#fff"/><rect x="579" y="387" width="1" height="39"/><rect x="577" y="397" width="5" height="27"/><rect x="578" y="398" width="3" height="25" fill="#fff"/><rect x="587" y="389" width="1" height="15"/><rect x="585" y="397" width="5" height="2"/><rect x="595" y="396" width="1" height="30"/><rect x="593" y="398" width="5" height="18"/><rect x="603" y="399" width="1" height="17"/><rect x="601" y="401" width="5" height="15"/><rect x="602" y="402" width="3" height="13" fill="#fff"/><rect x="611" y="399" width="1" height="24"/><rect x="609" y="402" width="5" height="12"/><rect x="619" y="406" width="1" height="15"/><rect x="617" y="412" width="5" height="2"/><rect x="627" y="368" width="1" height="68"/><rect x="625" y="373" width="5" height="41"/><rect x="626" y="374" width="3" height="39" fill="#fff"/><rect x="635" y="305" width="1" height="70"/><rect x="633" y="322" width="5" height="50"/><rect x="634" y="323" width="3" height="48" fill="#fff"/><rect x="643" y="314" width="1" height="51"/><rect x="641" y="321" width="5" height="21"/><rect x="651" y="337" width="1" height="28"/><rect x="649" y="342" width="5" height="10"/><rect x="659" y="347" width="1" height="40"/><rect x="657" y="351" width="5" height="31"/><rect x="667" y="358" width="1" height="36"/><rect x="665" y="362" width="5" height="20"/><rect x="666" y="363" width="3" height="18" fill="#fff"/><rect x="675" y="341" width="1" height="36"/><rect x="673" y="356" width="5" height="7"/><rect x="674" y="357" width="3" height="5" fill="#fff"/><rect x="683" y="336" width="1" height="42"/><rect x="681" y="342" width="5" height="15"/><rect x="682" y="343" width="3" height="13" fill="#fff"/><rect x="691" y="313" width="1" height="43"/><rect x="689" y="326" width="5" height="16"/><rect x="690" y="327" width="3" height="14" fill="#fff"/><rect x="699" y="313" width="1" height="29"/><rect x="697" y="328" width="5" height="7"/><rect x="707" y="308" width="1" height="29"/><rect x="705" y="310" width="5" height="24"/><rect x="706" y="311" width="3" height="22" fill="#fff"/><rect x="715" y="308" width="1" height="21"/><rect x="713" y="310" width="5" height="11"/><rect x="723" y="318" width="1" height="18"/><rect x="721" y="320" width="5" height="3"/><rect x="731" y="305" width="1" height="18"/><rect x="729" y="319" width="5" height="3"/><rect x="730" y="320" width="3" height="1" fill="#fff"/><rect x="739" y="313" width="1" height="40"/><rect x="737" y="319" width="5" height="16"/><rect x="747" y="305" width="1" height="38"/><rect x="745" y="312" width="5" height="24"/><rect x="746" y="313" width="3" height="22" fill="#fff"/><rect x="755" y="298" width="1" height="40"/><rect x="753" y="312" width="5" height="6"/><rect x="763" y="275" width="1" height="52"/><rect x="761" y="279" width="5" height="40"/><rect x="762" y="280" width="3" height="38" fill="#fff"/><rect x="771" y="261" width="1" height="33"/><rect x="769" y="279" width="5" height="12"/><rect x="779" y="287" width="1" height="29"/><rect x="777" y="290" width="5" height="6"/><rect x="787" y="286" width="1" height="17"/><rect x="785" y="295" width="5" height="8"/><rect x="795" y="297" width="1" height="16"/><rect x="793" y="302" width="5" height="3"/><rect x="803" y="285" width="1" height="21"/><rect x="801" y="302" width="5" height="3"/><rect x="802" y="303" width="3" height="1" fill="#fff"/></g>
<path d="M166.85 122.60 H174.40 V133.70 H177.70 L170.90 140.80 L163.30 133.70 H166.85 Z" fill="none" stroke="#FF0808" stroke-width="1.15" stroke-linejoin="miter"/>
<path d="M254.85 191.80 H262.40 V202.90 H265.70 L258.90 210.00 L251.30 202.90 H254.85 Z" fill="none" stroke="#FF0808" stroke-width="1.15" stroke-linejoin="miter"/>
<g fill="#000" shape-rendering="crispEdges">
<rect x="2" y="1" width="815" height="1"/>
<rect x="2" y="1" width="1" height="537"/>
<rect x="816" y="1" width="1" height="537"/>
<rect x="2" y="537" width="815" height="1"/>
<rect x="817" y="6" width="2" height="1"/>
<rect x="817" y="39" width="2" height="1"/>
<rect x="817" y="72" width="2" height="1"/>
<rect x="817" y="105" width="2" height="1"/>
<rect x="817" y="138" width="2" height="1"/>
<rect x="817" y="171" width="2" height="1"/>
<rect x="817" y="204" width="2" height="1"/>
<rect x="817" y="237" width="2" height="1"/>
<rect x="817" y="270" width="2" height="1"/>
<rect x="817" y="303" width="2" height="1"/>
<rect x="817" y="336" width="2" height="1"/>
<rect x="817" y="369" width="2" height="1"/>
<rect x="817" y="402" width="2" height="1"/>
<rect x="817" y="435" width="2" height="1"/>
<rect x="817" y="468" width="2" height="1"/>
<rect x="817" y="501" width="2" height="1"/>
<rect x="817" y="534" width="2" height="1"/>
<rect x="3" y="538" width="1" height="3"/>
<rect x="67" y="538" width="1" height="3"/>
<rect x="131" y="538" width="1" height="3"/>
<rect x="195" y="538" width="1" height="3"/>
<rect x="259" y="538" width="1" height="3"/>
<rect x="323" y="538" width="1" height="3"/>
<rect x="387" y="538" width="1" height="3"/>
<rect x="451" y="538" width="1" height="3"/>
<rect x="515" y="538" width="1" height="3"/>
<rect x="579" y="538" width="1" height="3"/>
<rect x="643" y="538" width="1" height="3"/>
<rect x="707" y="538" width="1" height="3"/>
<rect x="771" y="538" width="1" height="3"/>
</g>
<rect x="809" y="124" width="3" height="1" fill="#C8A088" shape-rendering="crispEdges"/>
<rect x="815" y="121" width="1" height="5" fill="#F8DCC4" shape-rendering="crispEdges"/>
<rect x="809" y="160" width="3" height="1" fill="#C8A088" shape-rendering="crispEdges"/>
<rect x="815" y="157" width="1" height="5" fill="#F8DCC4" shape-rendering="crispEdges"/>
<rect x="809" y="195" width="3" height="1" fill="#C8A088" shape-rendering="crispEdges"/>
<rect x="815" y="192" width="1" height="5" fill="#F8DCC4" shape-rendering="crispEdges"/>
<rect x="809" y="231" width="3" height="1" fill="#C8A088" shape-rendering="crispEdges"/>
<rect x="815" y="228" width="1" height="5" fill="#F8DCC4" shape-rendering="crispEdges"/>
<rect x="809" y="267" width="3" height="1" fill="#C8A088" shape-rendering="crispEdges"/>
<rect x="815" y="264" width="1" height="5" fill="#F8DCC4" shape-rendering="crispEdges"/>
<rect x="809" y="338" width="3" height="1" fill="#C8A088" shape-rendering="crispEdges"/>
<rect x="815" y="335" width="1" height="5" fill="#F8DCC4" shape-rendering="crispEdges"/>
<rect x="809" y="373" width="3" height="1" fill="#C8A088" shape-rendering="crispEdges"/>
<rect x="815" y="370" width="1" height="5" fill="#F8DCC4" shape-rendering="crispEdges"/>
<rect x="809" y="409" width="3" height="1" fill="#C8A088" shape-rendering="crispEdges"/>
<rect x="815" y="406" width="1" height="5" fill="#F8DCC4" shape-rendering="crispEdges"/>
<rect x="809" y="445" width="3" height="1" fill="#C8A088" shape-rendering="crispEdges"/>
<rect x="815" y="442" width="1" height="5" fill="#F8DCC4" shape-rendering="crispEdges"/>
<rect x="809" y="480" width="3" height="1" fill="#C8A088" shape-rendering="crispEdges"/>
<rect x="815" y="477" width="1" height="5" fill="#F8DCC4" shape-rendering="crispEdges"/>
<g font-family="Liberation Sans, sans-serif" font-size="10.1" fill="#000" stroke="#000" stroke-width="0.3">
<text x="822.5" y="10.0" textLength="32.3" lengthAdjust="spacingAndGlyphs" transform="rotate(0.05 822 10.0)">158.170</text>
<text x="822.5" y="43.0" textLength="32.3" lengthAdjust="spacingAndGlyphs" transform="rotate(0.05 822 43.0)">157.985</text>
<text x="822.5" y="76.0" textLength="32.3" lengthAdjust="spacingAndGlyphs" transform="rotate(0.05 822 76.0)">157.800</text>
<text x="822.5" y="109.0" textLength="32.3" lengthAdjust="spacingAndGlyphs" transform="rotate(0.05 822 109.0)">157.615</text>
<text x="822.5" y="142.0" textLength="32.3" lengthAdjust="spacingAndGlyphs" transform="rotate(0.05 822 142.0)">157.430</text>
<text x="822.5" y="175.0" textLength="32.3" lengthAdjust="spacingAndGlyphs" transform="rotate(0.05 822 175.0)">157.245</text>
<text x="822.5" y="208.0" textLength="32.3" lengthAdjust="spacingAndGlyphs" transform="rotate(0.05 822 208.0)">157.060</text>
<text x="822.5" y="241.0" textLength="32.3" lengthAdjust="spacingAndGlyphs" transform="rotate(0.05 822 241.0)">156.870</text>
<text x="822.5" y="274.0" textLength="32.3" lengthAdjust="spacingAndGlyphs" transform="rotate(0.05 822 274.0)">156.685</text>
<text x="822.5" y="340.0" textLength="32.3" lengthAdjust="spacingAndGlyphs" transform="rotate(0.05 822 340.0)">156.315</text>
<text x="822.5" y="373.0" textLength="32.3" lengthAdjust="spacingAndGlyphs" transform="rotate(0.05 822 373.0)">156.130</text>
<text x="822.5" y="406.0" textLength="32.3" lengthAdjust="spacingAndGlyphs" transform="rotate(0.05 822 406.0)">155.945</text>
<text x="822.5" y="439.0" textLength="32.3" lengthAdjust="spacingAndGlyphs" transform="rotate(0.05 822 439.0)">155.760</text>
<text x="822.5" y="472.0" textLength="32.3" lengthAdjust="spacingAndGlyphs" transform="rotate(0.05 822 472.0)">155.575</text>
<text x="822.5" y="505.0" textLength="32.3" lengthAdjust="spacingAndGlyphs" transform="rotate(0.05 822 505.0)">155.390</text>
<text x="822.5" y="538.0" textLength="32.3" lengthAdjust="spacingAndGlyphs" transform="rotate(0.05 822 538.0)">155.205</text>
</g>
<rect x="818" y="297" width="41" height="11" fill="#000" shape-rendering="crispEdges"/>
<text x="822.5" y="306" font-family="Liberation Sans, sans-serif" font-size="10.1" fill="#fff" textLength="32.3" lengthAdjust="spacingAndGlyphs" transform="rotate(0.05 822 306)">156.506</text>
<g font-family="Liberation Sans, sans-serif" font-size="10.1" fill="#000" stroke="#000" stroke-width="0.3">
<text x="2.6" y="550" textLength="51.0" lengthAdjust="spacingAndGlyphs" transform="rotate(0.05 2.6 550)">19 Dec 2025</text>
<text x="66.6" y="550" textLength="53.6" lengthAdjust="spacingAndGlyphs" transform="rotate(0.05 66.6 550)">22 Dec 03:00</text>
<text x="130.6" y="550" textLength="53.6" lengthAdjust="spacingAndGlyphs" transform="rotate(0.05 130.6 550)">22 Dec 11:00</text>
<text x="194.6" y="550" textLength="53.6" lengthAdjust="spacingAndGlyphs" transform="rotate(0.05 194.6 550)">22 Dec 19:00</text>
<text x="258.6" y="550" textLength="53.6" lengthAdjust="spacingAndGlyphs" transform="rotate(0.05 258.6 550)">23 Dec 03:00</text>
<text x="322.6" y="550" textLength="53.6" lengthAdjust="spacingAndGlyphs" transform="rotate(0.05 322.6 550)">23 Dec 11:00</text>
<text x="386.6" y="550" textLength="53.6" lengthAdjust="spacingAndGlyphs" transform="rotate(0.05 386.6 550)">23 Dec 19:00</text>
<text x="450.6" y="550" textLength="53.6" lengthAdjust="spacingAndGlyphs" transform="rotate(0.05 450.6 550)">24 Dec 03:00</text>
<text x="514.6" y="550" textLength="53.6" lengthAdjust="spacingAndGlyphs" transform="rotate(0.05 514.6 550)">24 Dec 11:00</text>
<text x="578.6" y="550" textLength="53.6" lengthAdjust="spacingAndGlyphs" transform="rotate(0.05 578.6 550)">24 Dec 19:00</text>
<text x="642.6" y="550" textLength="53.6" lengthAdjust="spacingAndGlyphs" transform="rotate(0.05 642.6 550)">26 Dec 03:00</text>
<text x="706.6" y="550" textLength="53.6" lengthAdjust="spacingAndGlyphs" transform="rotate(0.05 706.6 550)">26 Dec 11:00</text>
<text x="770.6" y="550" textLength="53.6" lengthAdjust="spacingAndGlyphs" transform="rotate(0.05 770.6 550)">26 Dec 19:00</text>
</g>
<rect x="131" y="541" width="80" height="11" fill="#727272" shape-rendering="crispEdges"/>
<text x="135.7" y="550" font-family="Liberation Sans, sans-serif" font-size="10.1" fill="#fff" textLength="70.7" lengthAdjust="spacingAndGlyphs" transform="rotate(0.05 135.7 550)">2025.12.22 16:00</text>
<rect x="147" y="541" width="80" height="11" fill="#727272" shape-rendering="crispEdges"/>
<text x="151.7" y="550" font-family="Liberation Sans, sans-serif" font-size="10.1" fill="#fff" textLength="70.7" lengthAdjust="spacingAndGlyphs" transform="rotate(0.05 151.7 550)">2025.12.22 18:00</text>
<rect x="219" y="541" width="80" height="11" fill="#727272" shape-rendering="crispEdges"/>
<text x="223.7" y="550" font-family="Liberation Sans, sans-serif" font-size="10.1" fill="#fff" textLength="70.7" lengthAdjust="spacingAndGlyphs" transform="rotate(0.05 223.7 550)">2025.12.23 03:00</text>
<rect x="259" y="541" width="80" height="11" fill="#727272" shape-rendering="crispEdges"/>
<text x="263.7" y="550" font-family="Liberation Sans, sans-serif" font-size="10.1" fill="#fff" textLength="70.7" lengthAdjust="spacingAndGlyphs" transform="rotate(0.05 263.7 550)">2025.12.23 08:00</text>
<path d="M6 8h7.4l-3.7 4.6z" fill="#000"/>
<text x="18.6" y="13" font-family="Liberation Sans, sans-serif" font-size="10.1" fill="#000" stroke="#000" stroke-width="0.3" textLength="50" lengthAdjust="spacingAndGlyphs" transform="rotate(0.05 18 13)">USDJPY,H1</text>
<text x="135.5" y="14.6" font-family="Liberation Sans, sans-serif" font-size="12.2" fill="#74747E" textLength="30.2" lengthAdjust="spacingAndGlyphs">23:00</text>
<text x="151.6" y="14.6" font-family="Liberation Sans, sans-serif" font-size="12.2" fill="#74747E" textLength="30.2" lengthAdjust="spacingAndGlyphs">01:00</text>
<text x="224.2" y="14.6" font-family="Liberation Sans, sans-serif" font-size="12.2" fill="#74747E" textLength="30.2" lengthAdjust="spacingAndGlyphs">10:00</text>
<text x="263.9" y="14.6" font-family="Liberation Sans, sans-serif" font-size="12.2" fill="#74747E" textLength="30.2" lengthAdjust="spacingAndGlyphs">15:00</text>
<text x="89.3" y="291.6" font-family="Liberation Sans, sans-serif" font-size="19.2" fill="#0000FF" stroke="#0000FF" stroke-width="0.3" textLength="84.2" lengthAdjust="spacingAndGlyphs"><tspan dy="1.3">+</tspan><tspan dy="-1.3">20.8pips</tspan></text>
<text x="217.5" y="448.6" font-family="Liberation Sans, sans-serif" font-size="19.2" fill="#0000FF" stroke="#0000FF" stroke-width="0.3" textLength="84.2" lengthAdjust="spacingAndGlyphs"><tspan dy="1.3">+</tspan><tspan dy="-1.3">60.3pips</tspan></text>
<text x="12.2" y="507.6" font-family="Liberation Mono, monospace" font-weight="bold" font-size="28.6" fill="#000" stroke="#fff" stroke-width="0.4" textLength="154.5" lengthAdjust="spacing" transform="translate(0,507.6) scale(1,1.05) translate(0,-507.6)">USDJPY H1</text>
</svg></body></html>
